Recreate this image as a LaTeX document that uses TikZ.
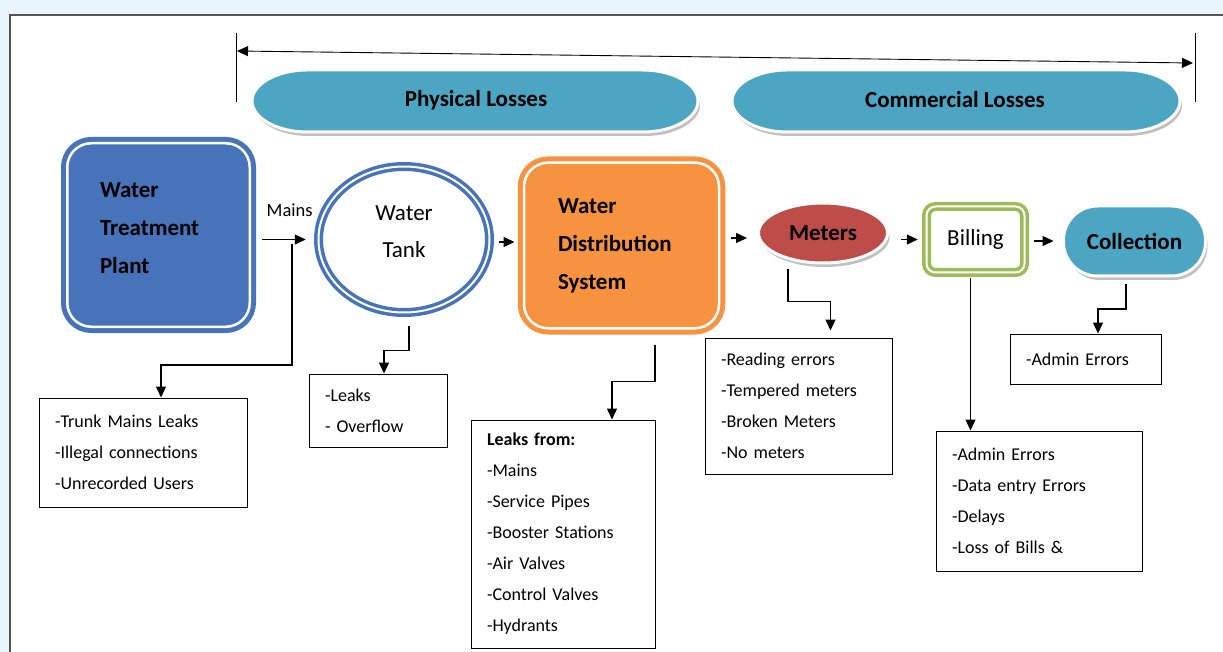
\documentclass[tikz,border=0pt]{standalone}
\usepackage{fontspec}
\setmainfont{Carlito}
\usetikzlibrary{arrows.meta, positioning, shapes.geometric, shadows}

\definecolor{bgblue}{RGB}{233,245,251}
\definecolor{framegray}{RGB}{85,85,85}
\definecolor{plantblue}{RGB}{70,115,185}
\definecolor{lossteal}{RGB}{75,165,195}
\definecolor{distorange}{RGB}{246,146,64}
\definecolor{meterred}{RGB}{190,76,73}
\definecolor{billgreen}{RGB}{155,187,89}

\begin{document}
\begin{tikzpicture}[
    x=1pt, y=-1pt,
    >={Triangle[length=11pt,width=10pt]},
    arrow/.style={->, line width=1.3pt},
    span/.style={<->, line width=0.9pt},
    titlefont/.style={font={\fontsize{23}{38}\selectfont\bfseries}},
    plainfont/.style={font={\fontsize{23}{37}\selectfont}},
    stage/.style={rectangle, rounded corners=24pt, line width=5pt, double=white, double distance=2.5pt,
      titlefont, align=left, inner xsep=34pt, inner ysep=0pt},
    bevel/.style={draw=white, line width=3pt,
      drop shadow={shadow xshift=2pt, shadow yshift=-4pt, fill=gray!70, opacity=0.7}},
    band/.style={fill=lossteal, bevel},
    tankshape/.style={ellipse, draw=plantblue, line width=3.5pt, double=white, double distance=2pt,
      fill=white, minimum width=171pt, minimum height=146pt, inner sep=0pt},
    listbox/.style={draw, line width=1pt, rectangle, align=left, inner xsep=16pt, inner ysep=0pt,
      font={\fontsize{18}{31}\selectfont}},
  ]
  \useasboundingbox (0,0) rectangle (1223,652);
  \fill[bgblue] (0,0) rectangle (1223,652);
  \fill[white] (10,15) rectangle (1223,652);
  \draw[framegray, line width=1.5pt] (10,652) |- (1223,15);

  % losses span
  \draw[line width=0.8pt] (236,33) -- (236,102);
  \draw[line width=0.8pt] (1195,33) -- (1195,102);
  \coordinate (spanL) at (237,51);
  \coordinate (spanR) at (1193,63);
  \draw[span] (spanL) -- (spanR);

  \filldraw[band] (307,70) -- (643,70) .. controls (673,70) and (698,84) .. (698,101)
    .. controls (698,118) and (673,132) .. (643,132) -- (307,132)
    .. controls (277,132) and (252,118) .. (252,101) .. controls (252,84) and (277,70) .. (307,70) -- cycle;
  \filldraw[band] (787,70) -- (1125,70) .. controls (1155,70) and (1180,84) .. (1180,101)
    .. controls (1180,118) and (1155,132) .. (1125,132) -- (787,132)
    .. controls (757,132) and (732,118) .. (732,101) .. controls (732,84) and (757,70) .. (787,70) -- cycle;
  \node[titlefont] (phys) at (476,100) {Physical Losses};
  \node[titlefont] (comm) at (955,100) {Commercial Losses};

  % main chain
  \node[stage, draw=plantblue, fill=plantblue, minimum width=182.5pt, minimum height=183.5pt,
    label={[titlefont, align=left, text width=117pt, yshift=7pt]center:{Water\\Treatment\\Plant}}]
    (plant) at (158.5,235) {};
  \node[tankshape, label={[plainfont, align=center, yshift=8pt]center:{Water\\Tank}}] (tank) at (404,239.5) {};
  \node[stage, draw=distorange, fill=distorange, text width=127pt, minimum width=191.5pt, minimum height=165.5pt]
    (dist) at (621.5,245.5) {Water\\Distribution\\System};
  \node[ellipse, fill=meterred, bevel, minimum width=129pt, minimum height=60pt, inner sep=0pt, titlefont]
    (meters) at (823,233) {Meters};
  \node[rectangle, rounded corners=9pt, draw=billgreen, line width=3.5pt, double=white, double distance=2pt,
    fill=white, minimum width=98pt, minimum height=66pt, plainfont] (billing) at (975.5,239.5) {Billing};
  \node[rectangle, rounded corners=34pt, fill=lossteal, bevel, minimum width=142pt, minimum height=70pt, titlefont]
    (coll) at (1134.5,241) {Collection};

  % loss lists
  \node[listbox, text width=176pt, minimum height=109pt] (trunk) at (143,452.5)
    {-Trunk Mains Leaks\\-Illegal connections\\-Unrecorded Users};
  \node[listbox, text width=106pt, minimum height=73pt] (tanklist) at (378,410.5)
    {-Leaks\\- Overflow};
  \node[listbox, text width=152pt, minimum height=228pt] (leaks) at (563,534)
    {{\bfseries Leaks from:}\\-Mains\\-Service Pipes\\-Booster Stations\\-Air Valves\\-Control Valves\\-Hydrants};
  \node[listbox, text width=155pt, minimum height=136pt] (meterlist) at (798.5,406)
    {-Reading errors\\-Tempered meters\\-Broken Meters\\-No meters};
  \node[listbox, text width=119pt, minimum height=50pt] (colllist) at (1085.5,359)
    {-Admin Errors};
  \node[listbox, text width=174pt, minimum height=140pt] (billlist) at (1039,501)
    {-Admin Errors\\-Data entry Errors\\-Delays\\-Loss of Bills \&};

  % flow
  \draw[arrow, shorten <=10pt, shorten >=11pt] (plant.east |- tank) --
    node[pos=0.58, above=19pt, font={\fontsize{18.5}{20}\selectfont}] (mains) {Mains} (tank.west);
  \draw[arrow, shorten <=8pt, shorten >=7pt] ([yshift=-2.5pt]tank.east) -- ([yshift=-2.5pt]tank.east -| dist.west);
  \draw[arrow, shorten <=9pt, shorten >=10pt] ([yshift=-5pt]meters.west -| dist.east) -- ([yshift=-5pt]meters.west);
  \draw[arrow, shorten <=12pt, shorten >=7pt] (meters.east |- billing) -- (billing.west);
  \draw[arrow, shorten <=8pt, shorten >=8.5pt] (billing.east |- coll) -- (coll.west);

  % branches to the lists
  \coordinate (tap) at (292,244);
  \draw[arrow] (tap) -- ++(0,121) -| ([xshift=18pt]trunk.north);
  \draw[arrow] ([xshift=5pt,yshift=-12pt]tank.south) -- ++(0,24) -| ([xshift=6pt]tanklist.north);
  \draw[arrow] ([xshift=33.5pt,yshift=-14pt]dist.south) -- ++(0,37) -| ([xshift=49pt]leaks.north);
  \draw[arrow, shorten >=7pt] ([xshift=-35pt,yshift=-5pt]meters.south) -- ++(0,32) -| ([xshift=32pt]meterlist.north);
  \draw[arrow] ([xshift=-5pt,yshift=-4pt]billing.south) -- ([xshift=-5pt]billing.south |- billlist.north);
  \draw[arrow] ([xshift=-8.5pt,yshift=-6.5pt]coll.south) -- ++(0,25) -| ([xshift=12.5pt]colllist.north);
\end{tikzpicture}
\end{document}
